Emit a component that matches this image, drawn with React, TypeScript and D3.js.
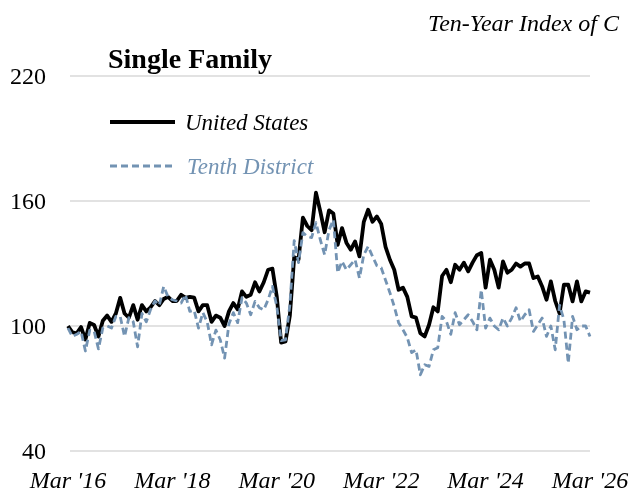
import * as d3 from "d3";
import React from "react";

// monthly index values, Mar 2016 .. Mar 2026
const usValues = [
  100, 97, 96.5, 99.5, 93.5, 101.5, 100.5, 95, 102.5, 105,
  102, 106, 113.5, 106, 104, 110, 103, 110, 107, 109,
  112, 110, 113, 114, 112, 112, 115, 113.5, 114, 113.6,
  107, 110, 110, 102, 105, 104, 100, 107, 111, 108,
  116.6, 114, 115, 121, 116.6, 121, 127, 127.5, 114, 92,
  92.6, 105, 133, 132, 152, 148, 146, 164, 155, 145,
  155.5, 154, 139, 147, 140, 136.6, 140.6, 133.4, 150, 155.8,
  150, 152.6, 149, 138, 131.8, 127, 117.4, 118.4, 114, 104.6,
  104, 96.5, 95, 100.6, 109, 107, 124, 127, 121, 129.4,
  127, 130.4, 126.2, 130.4, 134, 135, 118.4, 131.8, 127, 118.4,
  131, 125.6, 127, 130, 128.5, 130, 130, 123, 123.8, 119,
  112.6, 121.4, 112, 106, 119.8, 119.8, 111.8, 121.4, 111.8, 116.6, 116,
];

const tenthValues = [
  99, 95, 96, 97.4, 88, 98, 97.6, 89, 99, 100,
  99, 104.6, 104.6, 95, 104, 102, 90, 106, 102, 108,
  112, 110, 119, 114, 112.6, 112, 111, 115, 107, 107.5,
  99, 106.4, 102, 91, 98, 93.4, 84.6, 101, 106.4, 101.6,
  113.6, 111, 105.4, 111.8, 108.8, 107.8, 112.6, 119, 109.4, 93,
  93.4, 110, 141, 130.4, 144.8, 143, 142.4, 149.6, 141.4, 134.2,
  146, 151, 125.6, 131, 127, 129.4, 131.8, 123, 134.2, 138.2,
  133.4, 129, 128, 122, 116, 109.4, 101.6, 98.2, 94.4, 87.2,
  88.6, 76.6, 81.4, 80.6, 88.6, 89.6, 104.6, 102.2, 96, 106.4,
  100.6, 103, 105.4, 102.2, 98.2, 117.4, 99, 103.8, 100, 98.2,
  103.8, 100, 103.8, 108.8, 102.2, 105.4, 107.8, 97.4, 100.6, 103.8,
  95, 100, 88.6, 110, 103, 82.2, 104.6, 98.2, 100, 100, 95,
];

const xTickLabels = ["Mar '16", "Mar '18", "Mar '20", "Mar '22", "Mar '24", "Mar '26"];
const yTicks = [40, 100, 160, 220];

const width = 630;
const height = 495;
const font = "'Liberation Serif', 'Times New Roman', serif";
const blue = "#7393B3";

const App = () => {
  const x = d3.scaleLinear().domain([0, 120]).range([68, 590]);
  const y = d3.scaleLinear().domain([40, 220]).range([451, 76]);

  const line = d3
    .line<number>()
    .x((_, i) => x(i))
    .y((d) => y(d));

  return (
    <div style={{ position: "fixed", left: 0, top: 0 }}>
      <svg width={width} height={height} style={{ display: "block", overflow: "hidden" }}>
        {/* title runs off the right edge, as in the original */}
        <text x={428} y={31} fontFamily={font} fontStyle="italic" fontSize={24}>
          Ten-Year Index of C
        </text>
        <text x={108} y={68} fontFamily={font} fontWeight="bold" fontSize={28}>
          Single Family
        </text>

        {yTicks.map((t) => (
          <g key={t}>
            <line x1={70} x2={590} y1={y(t)} y2={y(t)} stroke="#D9D9D9" strokeWidth={1.5} />
            <text
              x={46}
              y={y(t)}
              dy="0.35em"
              textAnchor="end"
              fontFamily={font}
              fontSize={24}
            >
              {t}
            </text>
          </g>
        ))}

        {xTickLabels.map((lab, i) => (
          <text
            key={lab}
            x={x(i * 24)}
            y={488}
            textAnchor="middle"
            fontFamily={font}
            fontStyle="italic"
            fontSize={24}
          >
            {lab}
          </text>
        ))}

        <path
          d={line(usValues) ?? ""}
          fill="none"
          stroke="#000"
          strokeWidth={3.8}
          strokeLinejoin="round"
        />
        <path
          d={line(tenthValues) ?? ""}
          fill="none"
          stroke={blue}
          strokeWidth={2.8}
          strokeDasharray="7,4"
          strokeLinejoin="round"
        />

        <line x1={110} x2={175} y1={122} y2={122} stroke="#000" strokeWidth={3.8} />
        <text x={185} y={130} fontFamily={font} fontStyle="italic" fontSize={23}>
          United States
        </text>
        <line
          x1={110}
          x2={175}
          y1={166}
          y2={166}
          stroke={blue}
          strokeWidth={2.8}
          strokeDasharray="7,4"
        />
        <text x={187} y={174} fontFamily={font} fontStyle="italic" fontSize={23} fill={blue}>
          Tenth District
        </text>
      </svg>
    </div>
  );
};

export default App;
